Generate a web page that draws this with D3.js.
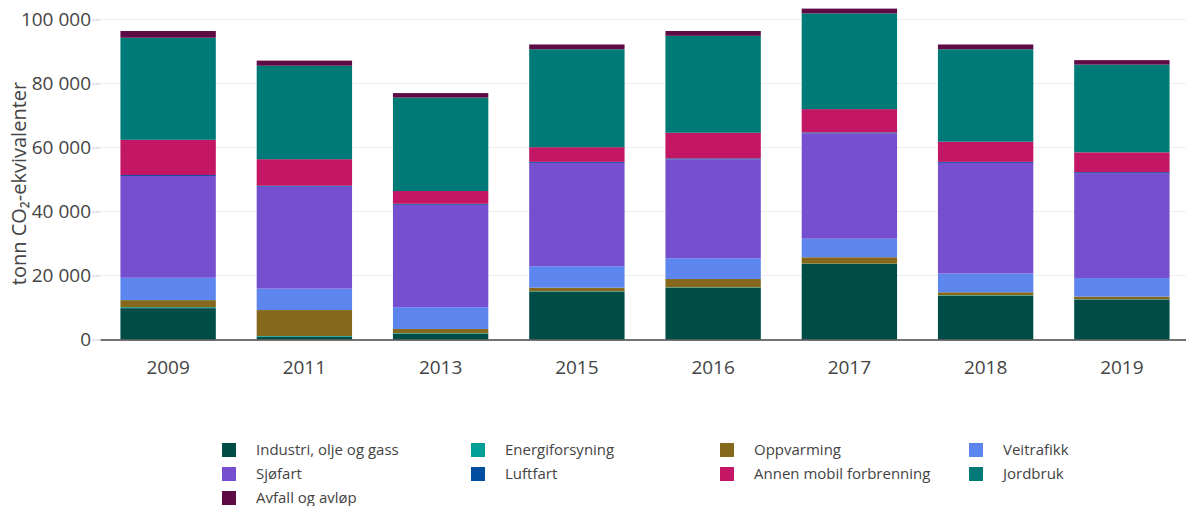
<!DOCTYPE html>
<html>
<head>
<meta charset="utf-8">
<script src="https://cdn.jsdelivr.net/npm/d3@7"></script>
<style>
  body { margin: 0; background: #fff; }
  text { font-family: "Open Sans", sans-serif; fill: #444; }
</style>
</head>
<body>
<div id="chart"></div>
<script>
// Data
const years = ["2009", "2011", "2013", "2015", "2016", "2017", "2018", "2019"];
const sectors = ["Industri, olje og gass", "Energiforsyning", "Oppvarming", "Veitrafikk",
  "Sjøfart", "Luftfart", "Annen mobil forbrenning", "Jordbruk", "Avfall og avløp"];
const colors = ["#004c47", "#00a096", "#85681b", "#5c86ee", "#764fd0", "#004ea2", "#c31665", "#007a76", "#5e0a45"];

const industri    = [9800, 900, 1800, 15000, 16100, 23600, 13600, 12500];
const energi      = [300, 200, 200, 100, 200, 100, 200, 100];
const oppvarming  = [2200, 8100, 1300, 1100, 2600, 2000, 950, 800];
const veitrafikk  = [7000, 6700, 6800, 6700, 6500, 5800, 5850, 5800];
const sjofart     = [31800, 31850, 32000, 32300, 30900, 32900, 34600, 32800];
const luftfart    = [300, 300, 300, 300, 300, 300, 300, 300];
const annen       = [11000, 8300, 4000, 4600, 8000, 7300, 6300, 6200];
const jordbruk    = [31900, 29200, 29200, 30600, 30300, 29900, 28900, 27400];
const avfall      = [2100, 1600, 1400, 1500, 1500, 1500, 1500, 1400];

const yTicks = [0, 20000, 40000, 60000, 80000, 100000];

const series = [industri, energi, oppvarming, veitrafikk, sjofart, luftfart, annen, jordbruk, avfall];
const rows = years.map((yr, i) => {
  const r = { year: yr };
  sectors.forEach((s, j) => r[s] = series[j][i]);
  return r;
});

// Set up the SVG
const width = 1186;
const height = 506;
const margin = { top: 19.5, right: -4, bottom: 166.5, left: 100 };

const svg = d3.select("#chart")
  .append("svg")
  .attr("width", width)
  .attr("height", height);

const innerW = width - margin.left - margin.right;
const innerH = height - margin.top - margin.bottom;

const g = svg.append("g")
  .attr("transform", `translate(${margin.left},${margin.top})`);

// Scales
const x = d3.scaleBand()
  .domain(years)
  .range([0, innerW])
  .paddingInner(0.3)
  .paddingOuter(0.15);

const y = d3.scaleLinear()
  .domain([0, 100000])
  .range([innerH, 0]);

const fmt = v => d3.format(",")(v).replace(/,/g, " ");

// Grid
g.append("g")
  .selectAll("line")
  .data(yTicks.filter(d => d > 0))
  .join("line")
  .attr("x1", 0)
  .attr("x2", innerW)
  .attr("y1", d => y(d))
  .attr("y2", d => y(d))
  .attr("stroke", "#eeeeee")
  .attr("stroke-width", 1);

// Stacked bars
const stack = d3.stack().keys(sectors)(rows);

g.append("g")
  .selectAll("g")
  .data(stack)
  .join("g")
  .attr("fill", (d, i) => colors[i])
  .selectAll("rect")
  .data(d => d)
  .join("rect")
  .attr("x", d => x(d.data.year))
  .attr("width", x.bandwidth())
  .attr("y", d => y(d[1]))
  .attr("height", d => y(d[0]) - y(d[1]));

// Axes
const yAxis = g.append("g")
  .call(d3.axisLeft(y).tickValues(yTicks).tickFormat(fmt).tickSize(8).tickPadding(1));
yAxis.select(".domain").remove();
yAxis.selectAll(".tick line").attr("stroke", "#ccc");
yAxis.selectAll(".tick text").style("font-size", "19px").attr("fill", "#444");

const xAxis = g.append("g")
  .attr("transform", `translate(0,${innerH})`)
  .call(d3.axisBottom(x).tickSize(0).tickPadding(21));
xAxis.select(".domain").attr("stroke", "#444").attr("stroke-width", 1.5);
xAxis.selectAll(".tick text").style("font-size", "19px").attr("fill", "#444");

// Y title
svg.append("text")
  .attr("transform", `translate(26,${margin.top + innerH / 2 + 4}) rotate(-90)`)
  .attr("text-anchor", "middle")
  .style("font-size", "20px")
  .text("tonn CO₂-ekvivalenter");

// Legend
const legend = svg.append("g");
const legItems = legend.selectAll("g")
  .data(sectors)
  .join("g")
  .attr("transform", (d, i) => `translate(${222 + (i % 4) * 249},${450 + Math.floor(i / 4) * 24})`);

legItems.append("rect")
  .attr("x", 0)
  .attr("y", -7)
  .attr("width", 14)
  .attr("height", 14)
  .attr("fill", (d, i) => colors[i]);

legItems.append("text")
  .attr("x", 34)
  .attr("y", 0)
  .attr("dy", "0.35em")
  .style("font-size", "15px")
  .text(d => d);
</script>
</body>
</html>
